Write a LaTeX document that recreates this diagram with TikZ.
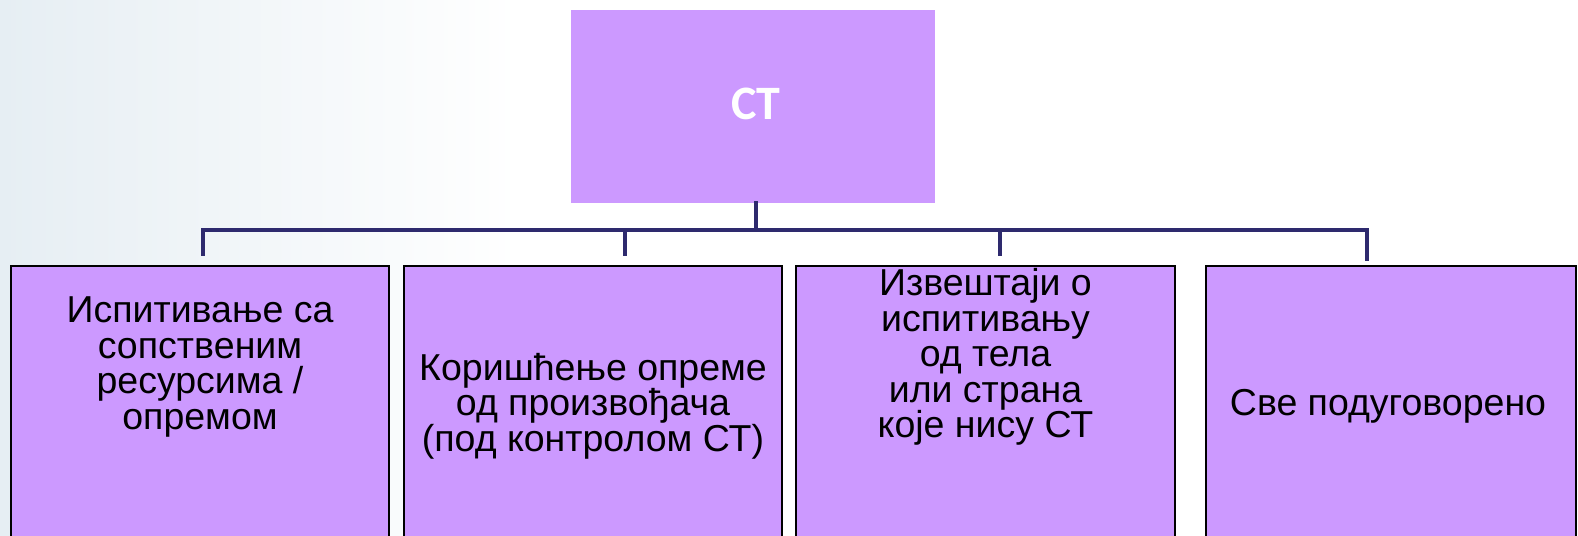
\documentclass[tikz,border=0pt]{standalone}
\usepackage{fontspec}
\setmainfont{Liberation Sans}
\newfontfamily\ctfont{Carlito}
\definecolor{boxfill}{HTML}{CC99FF}
\definecolor{navy}{HTML}{2E2A6E}
\definecolor{bgleft}{HTML}{E6EEF3}
\begin{document}
\begin{tikzpicture}[x=1pt,y=-1pt,
  conn/.style={draw=navy,line width=4pt,line cap=rect},
  topbox/.style={rectangle,fill=boxfill,draw=none,inner sep=0pt},
  childbox/.style={rectangle,fill=boxfill,draw=black,line width=1.5pt,inner sep=0pt},
  childtext/.style={align=center,text=black,font=\fontsize{37.5}{35.5}\selectfont,inner sep=0pt}
]
\useasboundingbox (0,0) rectangle (1578,535);
\clip (0,0) rectangle (1578,535);
\fill[white] (0,0) rectangle (1578,535);
\shade[left color=bgleft,right color=white] (0,0) rectangle (520,535);
% top box
\node[topbox,minimum width=364pt,minimum height=193pt] (top) at (753,106.5) {};
\node[text=white,font=\ctfont\bfseries\fontsize{48}{50}\selectfont,inner sep=0pt] (toptext) at (756,104) {СТ};
% child boxes
\node[childbox,minimum width=378pt,minimum height=290pt] (b1) at (200,411) {};
\node[childbox,minimum width=378pt,minimum height=290pt] (b2) at (593,411) {};
\node[childbox,minimum width=379pt,minimum height=290pt] (b3) at (985.5,411) {};
\node[childbox,minimum width=370pt,minimum height=290pt] (b4) at (1391,411) {};
% texts
\node[childtext] (t1) at (200,367) {Испитивање са\\сопствeним\\ресурсима /\\опремом};
\node[childtext] (t2) at (593,406) {Коришћење опреме\\од произвођача\\(под контролом СТ)};
\node[childtext] (t3) at (985.5,357) {Извештаји о\\испитивању\\од тела\\или страна\\које нису СТ};
\node[childtext] (t4) at (1388,406) {Све подуговорено};
% connectors
\coordinate (bar) at (756,230);
\coordinate (d1) at (203,254);
\coordinate (d2) at (625,254);
\coordinate (d3) at (1000,254);
\coordinate (d4) at (1367,259);
\draw[conn] (top.south -| bar) -- (bar);
\draw[conn] (d1) -- (d1 |- bar) -- (d4 |- bar) -- (d4);
\draw[conn] (d2) -- (d2 |- bar);
\draw[conn] (d3) -- (d3 |- bar);
\end{tikzpicture}
\end{document}
